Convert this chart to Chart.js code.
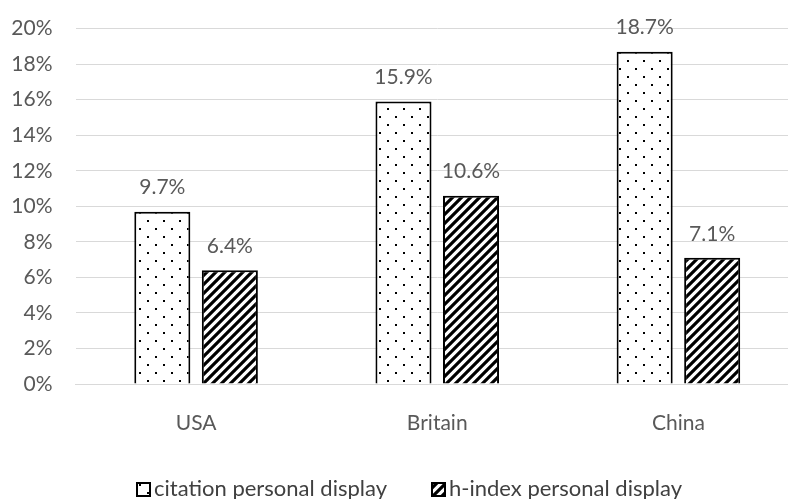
<!DOCTYPE html>
<html>
<head>
<meta charset="utf-8">
<script src="https://cdn.jsdelivr.net/npm/chart.js@4"></script>
<style>
html,body{margin:0;padding:0;background:#fff;overflow:hidden;width:788px;height:499px;}
#wrap{position:absolute;left:0;top:-7px;width:800px;height:506px;}
</style>
</head>
<body>
<div id="wrap"><canvas id="c" width="800" height="506"></canvas></div>
<script>
const categories = ["USA", "Britain", "China"];
const citationValues = [9.7, 15.9, 18.7];
const hindexValues = [6.4, 10.6, 7.1];
const seriesNames = ["citation personal display", "h-index personal display"];
const yTicks = [0, 2, 4, 6, 8, 10, 12, 14, 16, 18, 20];

function dotPattern() {
  const c = document.createElement('canvas');
  c.width = 16; c.height = 16;
  const x = c.getContext('2d');
  x.fillStyle = '#fff'; x.fillRect(0, 0, 16, 16);
  x.fillStyle = '#000';
  x.fillRect(3, 3, 2, 2);
  x.fillRect(11, 11, 2, 2);
  return x.createPattern(c, 'repeat');
}
function hatchPattern() {
  const s = 9;
  const c = document.createElement('canvas');
  c.width = s; c.height = s;
  const x = c.getContext('2d');
  x.fillStyle = '#fff'; x.fillRect(0, 0, s, s);
  x.strokeStyle = '#000'; x.lineWidth = 3.2; x.lineCap = 'square';
  x.beginPath();
  x.moveTo(-s, s); x.lineTo(s, -s);
  x.moveTo(0, s); x.lineTo(s, 0);
  x.moveTo(0, 2 * s); x.lineTo(2 * s, 0);
  x.stroke();
  return x.createPattern(c, 'repeat');
}

const FONT = 'Lato, "Open Sans", sans-serif';
const GREY = '#595959';
const dots = dotPattern();
const hatch = hatchPattern();

const labelPlugin = {
  id: 'valueLabels',
  afterDatasetsDraw(chart) {
    const ctx = chart.ctx;
    ctx.save();
    ctx.font = '21px ' + FONT;
    ctx.fillStyle = GREY;
    ctx.textAlign = 'center';
    ctx.textBaseline = 'middle';
    chart.data.datasets.forEach((ds, i) => {
      chart.getDatasetMeta(i).data.forEach((bar, j) => {
        ctx.fillText(ds.data[j].toFixed(1) + '%', bar.x, bar.y - 24);
      });
    });
    ctx.restore();
  }
};

const legendPlugin = {
  id: 'customLegend',
  afterDraw(chart) {
    const ctx = chart.ctx;
    ctx.save();
    ctx.font = '22px ' + FONT;
    ctx.textBaseline = 'middle';
    ctx.textAlign = 'left';
    const y = 496;
    const starts = [137, 432];
    chart.data.datasets.forEach((ds, i) => {
      const x0 = starts[i];
      ctx.fillStyle = ds.backgroundColor;
      ctx.fillRect(x0, y - 6, 13, 13);
      ctx.strokeStyle = '#000'; ctx.lineWidth = 2;
      ctx.strokeRect(x0, y - 6, 13, 13);
      ctx.fillStyle = '#404040';
      ctx.fillText(ds.label, x0 + 17, y);
    });
    ctx.restore();
  }
};

new Chart(document.getElementById('c'), {
  type: 'bar',
  data: {
    labels: categories,
    datasets: [
      { label: seriesNames[0], data: citationValues, backgroundColor: dots, borderColor: '#000', borderWidth: 2,
        categoryPercentage: 0.56, barPercentage: 0.83 },
      { label: seriesNames[1], data: hindexValues, backgroundColor: hatch, borderColor: '#000', borderWidth: 2,
        categoryPercentage: 0.56, barPercentage: 0.83 }
    ]
  },
  options: {
    responsive: false,
    animation: false,
    layout: { padding: { top: 0, right: 1, bottom: 0, left: 0 } },
    plugins: { legend: { display: false }, tooltip: { enabled: false } },
    scales: {
      x: {
        grid: { display: false, drawTicks: false },
        border: { display: true, color: '#d9d9d9', width: 1 },
        ticks: { color: GREY, font: { family: FONT, size: 21 }, padding: 27 },
        afterFit(s) { s.height = 115; }
      },
      y: {
        min: 0, max: 20,
        afterBuildTicks(s) { s.ticks = yTicks.map(v => ({ value: v })); },
        grid: { color: '#d9d9d9', lineWidth: 1, drawTicks: false },
        border: { display: false },
        ticks: { color: GREY, font: { family: FONT, size: 21 }, padding: 23, callback: v => v + '%' },
        afterFit(s) { s.width = 75.5; }
      }
    }
  },
  plugins: [labelPlugin, legendPlugin]
});
</script>
</body>
</html>
